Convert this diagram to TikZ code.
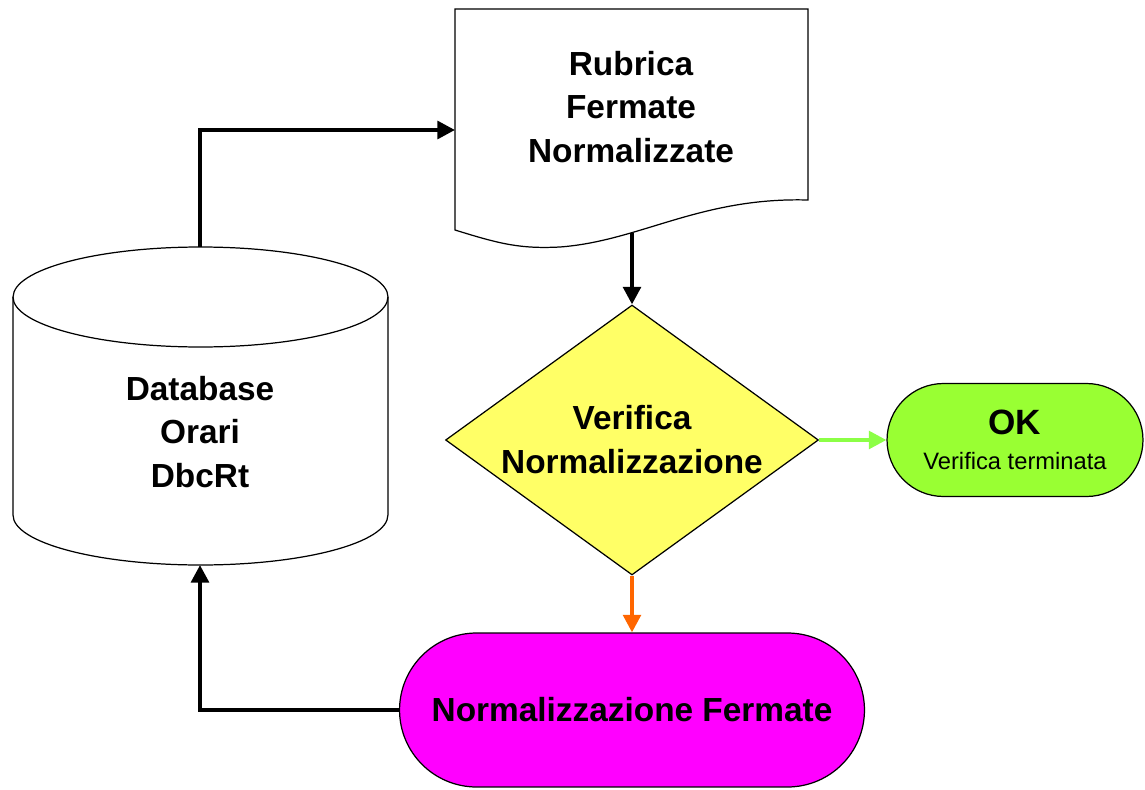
\documentclass[tikz,border=0pt]{standalone}
\usepackage{fontspec}
\setmainfont{Liberation Sans}
\usetikzlibrary{shapes.geometric,shapes.misc,arrows.meta}
\definecolor{dyellow}{RGB}{255,255,102}
\definecolor{okgreen}{RGB}{153,255,51}
\definecolor{lgreen}{RGB}{140,255,70}
\definecolor{orng}{RGB}{255,102,0}
\definecolor{mag}{RGB}{255,0,255}
\begin{document}
\begin{tikzpicture}[x=0.02cm,y=0.02cm,
  shapeline/.style={draw=black, line width=0.7pt},
  lbl/.style={font=\fontsize{19}{25}\selectfont\bfseries, align=center},
  flow/.style={line width=2.3pt, -{Triangle[length=10pt,width=10pt]}},
  flowc/.style={line width=2.2pt, -{Triangle[length=10pt,width=10pt]}}]
\useasboundingbox (0,0) rectangle (1145,789);
% document shape
\draw[shapeline, fill=white] (455,780) -- (808,780) -- (808,589)
  .. controls (700,592) and (640,548) .. (560,542)
  .. controls (520,540) and (500,545) .. (455,559) -- cycle;
\node[lbl] (doc) at (631,682) {Rubrica\\Fermate\\Normalizzate};
\coordinate (docwave) at (632,556);
\coordinate (docleft) at (455,659);
% cylinder
\draw[shapeline, fill=white] (13,492) -- (13,274)
  arc[start angle=180, end angle=360, x radius=3.75cm, y radius=1cm]
  -- (388,492)
  arc[start angle=0, end angle=180, x radius=3.75cm, y radius=1cm] -- cycle;
\draw[shapeline] (13,492) arc[start angle=180, end angle=360, x radius=3.75cm, y radius=1cm];
\node[lbl] (db) at (200,357) {Database\\Orari\\DbcRt};
\coordinate (dbtop) at (200,542);
\coordinate (dbbot) at (200,224);
% decision
\node[diamond, aspect=1.38, shapeline, fill=dyellow, minimum width=7.46cm,
  minimum height=5.4cm, inner sep=0pt, lbl] (ver) at (632,349) {Verifica\\Normalizzazione};
% OK terminal
\node[rounded rectangle, shapeline, fill=okgreen, minimum width=5.12cm,
  minimum height=2.26cm, inner sep=0pt, align=center,
  font=\fontsize{13.5}{20}\selectfont] (ok) at (1015,349)
  {{\fontsize{20}{20}\selectfont\bfseries OK}\\Verifica terminata};
% normalization terminal
\node[rounded rectangle, shapeline, fill=mag, minimum width=9.3cm,
  minimum height=3.08cm, inner sep=0pt, lbl] (norm) at (632,79) {Normalizzazione Fermate};
% connectors
\draw[flow] (dbtop) |- (docleft);
\draw[flow] (docwave) -- (ver.north);
\draw[flowc, lgreen] (ver.east) -- (ok.west);
\draw[flowc, orng] (ver.south) -- (norm.north);
\draw[flow] (norm.west) -| (dbbot);
\end{tikzpicture}
\end{document}
